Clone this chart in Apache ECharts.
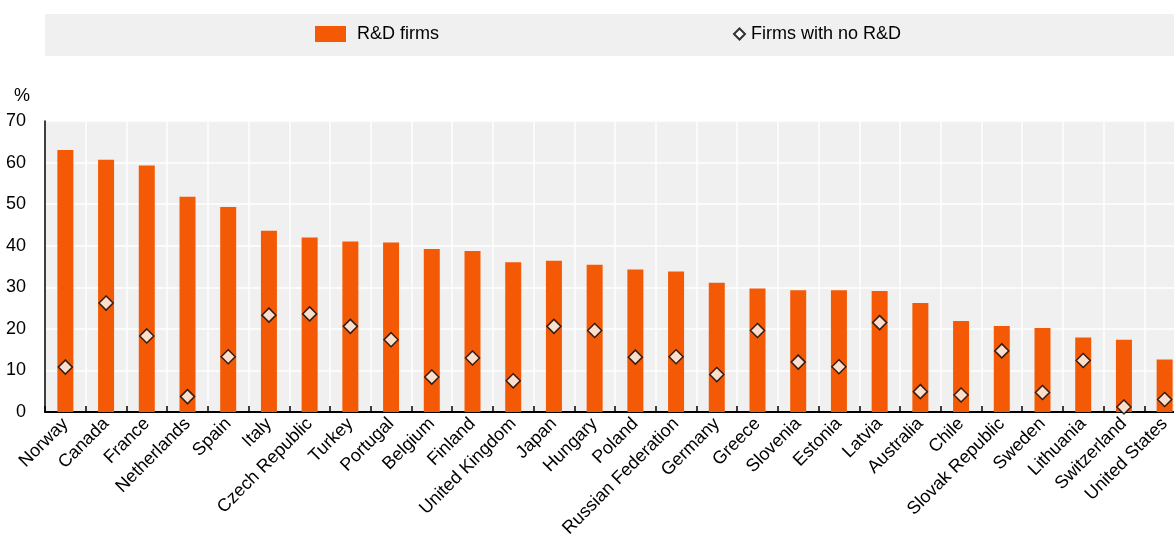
<!DOCTYPE html>
<html>
<head>
<meta charset="utf-8">
<script src="https://cdn.jsdelivr.net/npm/echarts@6/dist/echarts.min.js"></script>
<style>
html,body{margin:0;padding:0;background:#fff;}
#chart{width:1174px;height:541px;}
</style>
</head>
<body>
<div id="chart"></div>
<script>
const countries = ["Norway","Canada","France","Netherlands","Spain","Italy","Czech Republic","Turkey","Portugal","Belgium","Finland","United Kingdom","Japan","Hungary","Poland","Russian Federation","Germany","Greece","Slovenia","Estonia","Latvia","Australia","Chile","Slovak Republic","Sweden","Lithuania","Switzerland","United States"];
const rdFirms = [63.0,60.7,59.3,51.8,49.3,43.6,42.0,41.0,40.8,39.2,38.7,36.0,36.4,35.4,34.3,33.8,31.1,29.7,29.3,29.3,29.1,26.2,21.9,20.7,20.2,17.9,17.4,12.6];
const noRdFirms = [10.8,26.2,18.3,3.7,13.3,23.3,23.6,20.6,17.4,8.4,13.0,7.5,20.6,19.6,13.2,13.3,9.0,19.6,12.0,10.9,21.5,4.9,4.1,14.7,4.7,12.4,1.2,3.0];
const yTicks = {min:0, max:70, interval:10};

const FONT = "'Liberation Sans', Arial, sans-serif";
const ORANGE = '#F45A05';

const chart = echarts.init(document.getElementById('chart'), null, {renderer:'canvas'});
chart.setOption({
  animation: false,
  graphic: [
    {type:'rect', left:45, top:14, shape:{width:1129, height:42}, style:{fill:'#F0F0F0'}, z:-1},
    {type:'text', left:14, top:87, style:{text:'%', font:'18px ' + FONT, fill:'#000'}}
  ],
  legend: [
    {left:310, top:20, itemWidth:31, itemHeight:16, data:[{name:'R&D firms', icon:'rect'}],
     textStyle:{fontFamily:FONT, fontSize:18, color:'#000', padding:[0,0,0,6]}},
    {left:728, top:20, itemWidth:11, itemHeight:11, data:[{name:'Firms with no R&D', icon:'diamond'}],
     textStyle:{fontFamily:FONT, fontSize:18, color:'#000', padding:[0,0,0,1]}}
  ],
  grid: {left:45, top:121, width:1140, height:291, show:true, backgroundColor:'#F0F0F0', borderWidth:0,
         containLabel:false, outerBoundsMode:'none'},
  xAxis: {
    type:'category', data:countries, boundaryGap:true,
    axisLine:{show:true, lineStyle:{color:'#000', width:2}},
    axisTick:{show:true, inside:true, length:6, lineStyle:{color:'#000', width:1.5}},
    splitLine:{show:true, lineStyle:{color:'#fff', width:1.5}},
    axisLabel:{rotate:45, margin:9, interval:0, fontFamily:FONT, fontSize:18, color:'#000'}
  },
  yAxis: {
    type:'value', min:yTicks.min, max:yTicks.max, interval:yTicks.interval,
    axisLine:{show:true, lineStyle:{color:'#000', width:1.5}},
    axisTick:{show:false},
    splitLine:{show:true, lineStyle:{color:'#fff', width:1.5}},
    axisLabel:{margin:19, fontFamily:FONT, fontSize:18, color:'#000'}
  },
  series: [
    {name:'R&D firms', type:'bar', data:rdFirms, barWidth:16, itemStyle:{color:ORANGE}, z:2},
    {name:'Firms with no R&D', type:'scatter', data:noRdFirms, symbol:'diamond', symbolSize:14,
     itemStyle:{color:'#fff', borderColor:'#000', borderWidth:1.5}, z:3}
  ]
});
</script>
</body>
</html>
